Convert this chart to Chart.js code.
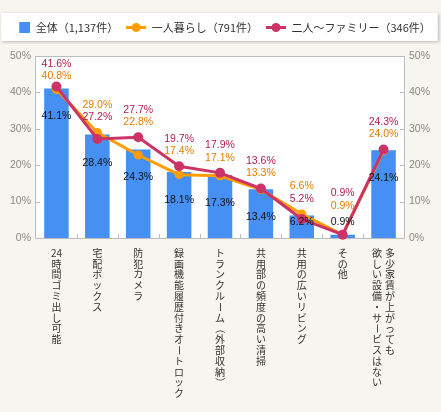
<!DOCTYPE html>
<html>
<head>
<meta charset="utf-8">
<style>
  html, body { margin: 0; padding: 0; background: #f6f5ef; }
</style>
<script src="https://cdn.jsdelivr.net/npm/chart.js@4/dist/chart.umd.min.js"></script>
</head>
<body>
<canvas id="myChart" width="441" height="412"></canvas>
<script>
// categories (a "\n" splits a label into two vertical columns, right one first)
var categories = [
    '24時間ゴミ出し可能',
    '宅配ボックス',
    '防犯カメラ',
    '録画機能履歴付きオートロック',
    'トランクルーム（外部収納）',
    '共用部の頻度の高い清掃',
    '共用の広いリビング',
    'その他',
    '多少家賃が上がっても\n欲しい設備・サービスはない'
];
var seriesNames = ['全体（1,137件）', '一人暮らし（791件）', '二人〜ファミリー（346件）'];
var allValues    = [41.1, 28.4, 24.3, 18.1, 17.3, 13.4, 6.2, 0.9, 24.1];
var singleValues = [40.8, 29.0, 22.8, 17.4, 17.1, 13.3, 6.6, 0.9, 24.0];
var familyValues = [41.6, 27.2, 27.7, 19.7, 17.9, 13.6, 5.2, 0.9, 24.3];
var yTicks = [0, 10, 20, 30, 40, 50];

var JP = '"Noto Sans CJK JP", sans-serif';
var NUM = 'Arial, "Liberation Sans", sans-serif';
var BLUE = '#4590f2', ORANGE = '#ff9d00', CRIMSON = '#cc3366';

// legend icons
function makeIcon(kind, color) {
    var c = document.createElement('canvas');
    c.width = 20; c.height = 11;
    var g = c.getContext('2d');
    g.fillStyle = color; g.strokeStyle = color;
    if (kind === 'box') {
        g.fillRect(9, 0, 11, 11);
    } else {
        g.lineWidth = 3;
        g.beginPath(); g.moveTo(0, 5.5); g.lineTo(20, 5.5); g.stroke();
        g.beginPath(); g.arc(10, 5.5, 4.5, 0, Math.PI * 2); g.fill();
    }
    return c;
}
var legendIcons = [makeIcon('box', BLUE), makeIcon('line', ORANGE), makeIcon('line', CRIMSON)];

var ROTATE = 'ー（）〜';
function drawVertical(ctx, text, x, y, step) {
    var tokens = text.match(/[0-9A-Za-z]+|./g);
    tokens.forEach(function (t, i) {
        var cy = y + i * step;
        if (ROTATE.indexOf(t) >= 0) {
            ctx.save();
            ctx.translate(x, cy);
            ctx.rotate(Math.PI / 2);
            ctx.fillText(t, 0, 0);
            ctx.restore();
        } else {
            ctx.fillText(t, x, cy);
        }
    });
}

var decor = {
    id: 'decor',
    beforeInit: function (chart) {
        // leave some room between legend and plot
        var fit = chart.legend.fit;
        chart.legend.fit = function () {
            fit.call(this);
            this.height += 13;
        };
    },
    beforeDraw: function (chart) {
        var ctx = chart.ctx, a = chart.chartArea;
        ctx.save();
        ctx.fillStyle = '#f6f5ef';
        ctx.fillRect(0, 0, chart.width, chart.height);
        ctx.fillStyle = '#ffffff';
        ctx.fillRect(a.left, a.top, a.right - a.left, a.bottom - a.top);
        var hb = chart.legend.legendHitBoxes;
        if (hb && hb.length) {
            var last = hb[hb.length - 1];
            var l = hb[0].left - 9, r = last.left + last.width + 7, t = hb[0].top - 9;
            ctx.shadowColor = 'rgba(0,0,0,0.25)';
            ctx.shadowBlur = 3;
            ctx.shadowOffsetX = 1;
            ctx.shadowOffsetY = 1;
            ctx.fillRect(l, t, r - l, 28);
        }
        ctx.restore();
    },
    beforeDatasetsDraw: function (chart) {
        var ctx = chart.ctx, a = chart.chartArea;
        var x = chart.scales.x, y = chart.scales.y;
        ctx.save();
        ctx.strokeStyle = '#bdbdbd';
        ctx.lineWidth = 1;
        ctx.strokeRect(a.left - 0.5, a.top + 0.5, a.right - a.left + 1, a.bottom - a.top);
        ctx.beginPath();
        yTicks.forEach(function (v) {
            var py = Math.round(y.getPixelForValue(v)) + 0.5;
            ctx.moveTo(a.left, py); ctx.lineTo(a.left + 4, py);
            ctx.moveTo(a.right - 4, py); ctx.lineTo(a.right, py);
        });
        for (var i = 1; i < categories.length; i++) {
            var px = Math.round((x.getPixelForTick(i - 1) + x.getPixelForTick(i)) / 2) + 0.5;
            ctx.moveTo(px, a.bottom); ctx.lineTo(px, a.bottom - 4);
        }
        ctx.stroke();
        ctx.restore();
    },
    afterDatasetsDraw: function (chart) {
        var ctx = chart.ctx, a = chart.chartArea;
        var bars = chart.getDatasetMeta(0).data;
        var single = chart.getDatasetMeta(1).data;
        var family = chart.getDatasetMeta(2).data;
        ctx.save();
        ctx.textAlign = 'center';
        ctx.textBaseline = 'middle';
        ctx.font = '10.5px ' + NUM;

        categories.forEach(function (c, i) {
            var b = bars[i];
            // bar value
            var barY = Math.min(b.y + 28, a.bottom - 16);
            ctx.fillStyle = '#111';
            ctx.fillText(allValues[i].toFixed(1) + '%', b.x, barY);

            // line values, higher one on top
            var famTop = familyValues[i] >= singleValues[i];
            var topY = Math.min(single[i].y, family[i].y);
            var lower = Math.min(topY - 15, barY - 16);
            var upper = Math.max(lower - 12.5, a.top + 8);
            lower = upper + 12.5;
            ctx.fillStyle = '#b01c4e';
            ctx.fillText(familyValues[i].toFixed(1) + '%', family[i].x, famTop ? upper : lower);
            ctx.fillStyle = '#e07d00';
            ctx.fillText(singleValues[i].toFixed(1) + '%', single[i].x, famTop ? lower : upper);
        });

        // vertical category labels
        ctx.fillStyle = '#333';
        ctx.font = '10px ' + JP;
        var xs = chart.scales.x;
        categories.forEach(function (c, i) {
            var cols = c.split('\n');
            var cx = xs.getPixelForTick(i);
            cols.forEach(function (col, k) {
                var colX = cx + ((cols.length - 1) / 2 - k) * 13;
                drawVertical(ctx, col, colX, a.bottom + 15, 10.8);
            });
        });
        ctx.restore();
    }
};

function yAxis(pos, w) {
    return {
        position: pos,
        min: 0,
        max: 50,
        grid: { display: false, drawTicks: false },
        border: { display: false },
        ticks: {
            stepSize: 10,
            padding: 5,
            color: '#888',
            font: { family: NUM, size: 10.5 },
            callback: function (v) { return v + '%'; }
        },
        afterFit: function (s) { s.width = w; }
    };
}

var ctx = document.getElementById('myChart').getContext('2d');
var chart = new Chart(ctx, {
    type: 'bar',
    data: {
        labels: categories,
        datasets: [{
            label: seriesNames[0],
            data: allValues,
            backgroundColor: BLUE,
            barPercentage: 0.6,
            categoryPercentage: 1,
            yAxisID: 'y',
            order: 3
        }, {
            type: 'line',
            label: seriesNames[1],
            data: singleValues,
            borderColor: ORANGE,
            backgroundColor: ORANGE,
            borderWidth: 3,
            pointRadius: 4.5,
            pointBorderWidth: 0,
            clip: false,
            yAxisID: 'y',
            order: 2
        }, {
            type: 'line',
            label: seriesNames[2],
            data: familyValues,
            borderColor: CRIMSON,
            backgroundColor: CRIMSON,
            borderWidth: 3,
            pointRadius: 5,
            pointBorderWidth: 0,
            clip: false,
            yAxisID: 'y',
            order: 1
        }]
    },
    options: {
        responsive: false,
        animation: false,
        layout: { padding: { top: 14, left: 0, right: 0, bottom: 0 } },
        plugins: {
            tooltip: { enabled: false },
            legend: {
                labels: {
                    usePointStyle: true,
                    pointStyleWidth: 20,
                    padding: 8,
                    color: '#333',
                    font: { family: JP, size: 11 },
                    sort: function (a, b) { return a.datasetIndex - b.datasetIndex; },
                    generateLabels: function (chart) {
                        var items = Chart.defaults.plugins.legend.labels.generateLabels(chart);
                        items.forEach(function (it) { it.pointStyle = legendIcons[it.datasetIndex]; });
                        return items;
                    }
                }
            }
        },
        scales: {
            x: {
                grid: { display: false, drawTicks: false },
                border: { display: false },
                ticks: { display: false },
                afterFit: function (s) { s.height = 174; }
            },
            y: yAxis('left', 36),
            y2: yAxis('right', 37)
        }
    },
    plugins: [decor]
});
</script>
</body>
</html>
